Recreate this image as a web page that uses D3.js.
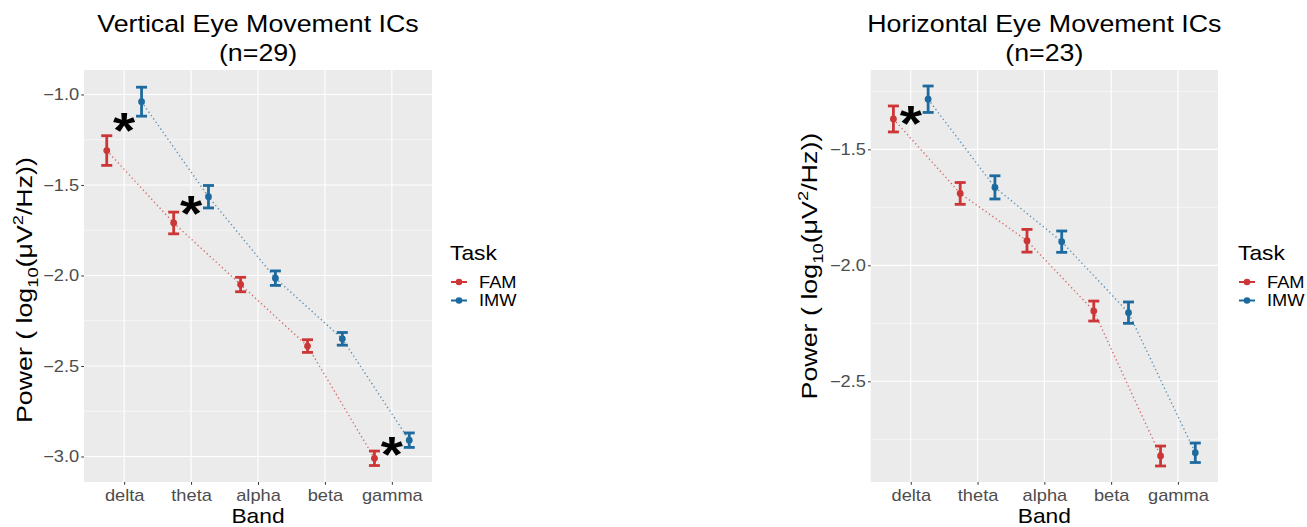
<!DOCTYPE html>
<html>
<head>
<meta charset="utf-8">
<script src="https://cdn.jsdelivr.net/npm/d3@7"></script>
<style>
  html, body { margin: 0; padding: 0; background: #fff; }
  svg { display: block; font-family: "Liberation Sans", Arial, sans-serif; }
</style>
</head>
<body>
<svg id="chart" width="1307" height="527"></svg>
<script>
// ---- data -------------------------------------------------------------
const bands = ["delta", "theta", "alpha", "beta", "gamma"];
const tasks = ["FAM", "IMW"];
const taskColors = ["#CC3636", "#1D6B9E"];

// Vertical eye movement ICs: mean log10 power and standard error per band
const verticalFAM   = [-1.31, -1.71, -2.05, -2.39, -3.01];
const verticalFAMse = [0.082, 0.060, 0.040, 0.035, 0.040];
const verticalIMW   = [-1.04, -1.565, -2.015, -2.35, -2.91];
const verticalIMWse = [0.080, 0.062, 0.040, 0.035, 0.040];
const verticalTicks = [-1.0, -1.5, -2.0, -2.5, -3.0];
const verticalStarBands  = ["delta", "theta", "gamma"];
const verticalStarValues = [-1.152, -1.61, -2.942];

// Horizontal eye movement ICs
const horizontalFAM   = [-1.369, -1.69, -1.894, -2.197, -2.822];
const horizontalFAMse = [0.056, 0.047, 0.049, 0.043, 0.043];
const horizontalIMW   = [-1.284, -1.664, -1.898, -2.204, -2.808];
const horizontalIMWse = [0.057, 0.050, 0.046, 0.046, 0.042];
const horizontalTicks = [-1.5, -2.0, -2.5];
const horizontalStarBands  = ["delta"];
const horizontalStarValues = [-1.352];

// ---- layout -----------------------------------------------------------
const sx = 1.14;          // horizontal text stretch
const panels = [
  {
    title: "Vertical Eye Movement ICs", sub: "(n=29)",
    means: [verticalFAM, verticalIMW], ses: [verticalFAMse, verticalIMWse],
    ticks: verticalTicks, starBands: verticalStarBands, starValues: verticalStarValues,
    x0: 84, x1: 432, y0: 70, y1: 482, yDomain: [-3.141, -0.865],
    yTitleX: 25, yTitleCY: 290, yTitleLen: 266, legendX: 450
  },
  {
    title: "Horizontal Eye Movement ICs", sub: "(n=23)",
    means: [horizontalFAM, horizontalIMW], ses: [horizontalFAMse, horizontalIMWse],
    ticks: horizontalTicks, starBands: horizontalStarBands, starValues: horizontalStarValues,
    x0: 870.7, x1: 1218, y0: 70, y1: 482, yDomain: [-2.934, -1.158],
    yTitleX: 810, yTitleCY: 266, yTitleLen: 267, legendX: 1238
  }
];

const svg = d3.select("#chart");

function label(g, x, y, str, size, opts = {}) {
  return g.append("text")
    .attr("transform", `translate(${x},${y}) scale(${sx},1)`)
    .attr("text-anchor", opts.anchor || "middle")
    .attr("font-size", size)
    .attr("fill", opts.fill || "#000")
    .text(str);
}

panels.forEach(p => {
  const g = svg.append("g");
  const x = d3.scalePoint().domain(bands).range([p.x0, p.x1]).padding(0.6);
  const y = d3.scaleLinear().domain(p.yDomain).range([p.y1, p.y0]);
  const step = x.step();
  const dodge = [-0.26 * step, 0.26 * step];
  const cap = 5.5;

  // panel background and grid
  g.append("rect").attr("x", p.x0).attr("y", p.y0)
    .attr("width", p.x1 - p.x0).attr("height", p.y1 - p.y0).attr("fill", "#EBEBEB");
  const minor = d3.range(Math.ceil(p.yDomain[0] * 4) / 4, p.yDomain[1], 0.25)
    .filter(v => !p.ticks.some(t => Math.abs(t - v) < 1e-6));
  g.selectAll(".minor").data(minor).join("line")
    .attr("x1", p.x0).attr("x2", p.x1).attr("y1", d => y(d)).attr("y2", d => y(d))
    .attr("stroke", "#fff").attr("stroke-width", 0.55);
  g.selectAll(".hmajor").data(p.ticks).join("line")
    .attr("x1", p.x0).attr("x2", p.x1).attr("y1", d => y(d)).attr("y2", d => y(d))
    .attr("stroke", "#fff").attr("stroke-width", 1.1);
  g.selectAll(".vmajor").data(bands).join("line")
    .attr("x1", d => x(d)).attr("x2", d => x(d)).attr("y1", p.y0).attr("y2", p.y1)
    .attr("stroke", "#fff").attr("stroke-width", 1.1);

  // dotted connecting lines per task
  tasks.forEach((t, ti) => {
    const pts = bands.map((b, bi) => [x(b) + dodge[ti], y(p.means[ti][bi])]);
    g.append("path").attr("d", d3.line()(pts))
      .attr("fill", "none").attr("stroke", taskColors[ti]).attr("stroke-opacity", 0.7)
      .attr("stroke-width", 1.4).attr("stroke-dasharray", "1.3,2.8");
  });

  // error bars and means
  tasks.forEach((t, ti) => {
    const rows = bands.map((b, bi) => ({ b, m: p.means[ti][bi], se: p.ses[ti][bi] }));
    const eg = g.append("g").attr("stroke", taskColors[ti]).attr("stroke-width", 2.8);
    eg.selectAll(".v").data(rows).join("line")
      .attr("x1", d => x(d.b) + dodge[ti]).attr("x2", d => x(d.b) + dodge[ti])
      .attr("y1", d => y(d.m - d.se)).attr("y2", d => y(d.m + d.se));
    eg.selectAll(".top").data(rows).join("line")
      .attr("x1", d => x(d.b) + dodge[ti] - cap).attr("x2", d => x(d.b) + dodge[ti] + cap)
      .attr("y1", d => y(d.m + d.se)).attr("y2", d => y(d.m + d.se));
    eg.selectAll(".bot").data(rows).join("line")
      .attr("x1", d => x(d.b) + dodge[ti] - cap).attr("x2", d => x(d.b) + dodge[ti] + cap)
      .attr("y1", d => y(d.m - d.se)).attr("y2", d => y(d.m - d.se));
    g.selectAll(".pt" + ti).data(rows).join("circle")
      .attr("cx", d => x(d.b) + dodge[ti]).attr("cy", d => y(d.m)).attr("r", 3.4)
      .attr("fill", taskColors[ti]);
  });

  // significance markers
  const starSize = 50;
  p.starBands.forEach((b, i) => {
    g.append("text")
      .attr("transform", `translate(${x(b)},${y(p.starValues[i]) + starSize * 0.52}) scale(${sx},1)`)
      .attr("text-anchor", "middle").attr("font-size", starSize).attr("font-weight", "bold")
      .attr("fill", "#000").text("*");
  });

  // axes
  const ya = g.append("g").attr("transform", `translate(${p.x0},0)`)
    .call(d3.axisLeft(y).tickValues(p.ticks).tickSize(2.75).tickPadding(1.5).tickFormat(d3.format(".1f")));
  ya.select(".domain").remove();
  ya.selectAll("line").attr("stroke", "#333");
  ya.selectAll("text").attr("font-size", 16).attr("fill", "#4D4D4D")
    .attr("transform", `scale(${sx},1)`);

  const xa = g.append("g").attr("transform", `translate(0,${p.y1})`)
    .call(d3.axisBottom(x).tickSize(2.75).tickPadding(4.5));
  xa.select(".domain").remove();
  xa.selectAll("line").attr("stroke", "#333");
  xa.selectAll("text").attr("font-size", 16).attr("fill", "#4D4D4D")
    .attr("transform", `scale(${sx},1)`);
  ya.attr("font-family", null); xa.attr("font-family", null);

  // titles
  const cx = (p.x0 + p.x1) / 2;
  label(g, cx, 31.7, p.title, 23.5);
  label(g, cx, 61, p.sub, 23.5);
  label(g, cx, 523, "Band", 20);

  // y axis title with subscript / superscript
  const yt = g.append("text").attr("font-size", 19).attr("fill", "#000")
    .attr("text-anchor", "start");
  yt.append("tspan").text("Power ( log");
  yt.append("tspan").attr("font-size", 13).attr("dy", 5).text("10");
  yt.append("tspan").attr("dy", -5).text("(\u03BCV");
  yt.append("tspan").attr("font-size", 13).attr("dy", -8).text("2");
  yt.append("tspan").attr("dy", 8).text("/Hz))");
  const w = yt.node().getComputedTextLength();
  const k = p.yTitleLen / w;
  yt.attr("transform",
    `translate(${p.yTitleX + 7},${p.yTitleCY + p.yTitleLen / 2}) rotate(-90) scale(${k},${sx})`);

  // legend
  const lg = g.append("g");
  label(lg, p.legendX, 260, "Task", 20, { anchor: "start" });
  tasks.forEach((t, ti) => {
    const ky = 282 + ti * 18.5;
    lg.append("line").attr("x1", p.legendX + 1).attr("x2", p.legendX + 17)
      .attr("y1", ky).attr("y2", ky).attr("stroke", taskColors[ti]).attr("stroke-width", 2);
    lg.append("circle").attr("cx", p.legendX + 9).attr("cy", ky).attr("r", 3.3)
      .attr("fill", taskColors[ti]);
    label(lg, p.legendX + 29, ky + 5.8, t, 16, { anchor: "start" });
  });
});
</script>
</body>
</html>
